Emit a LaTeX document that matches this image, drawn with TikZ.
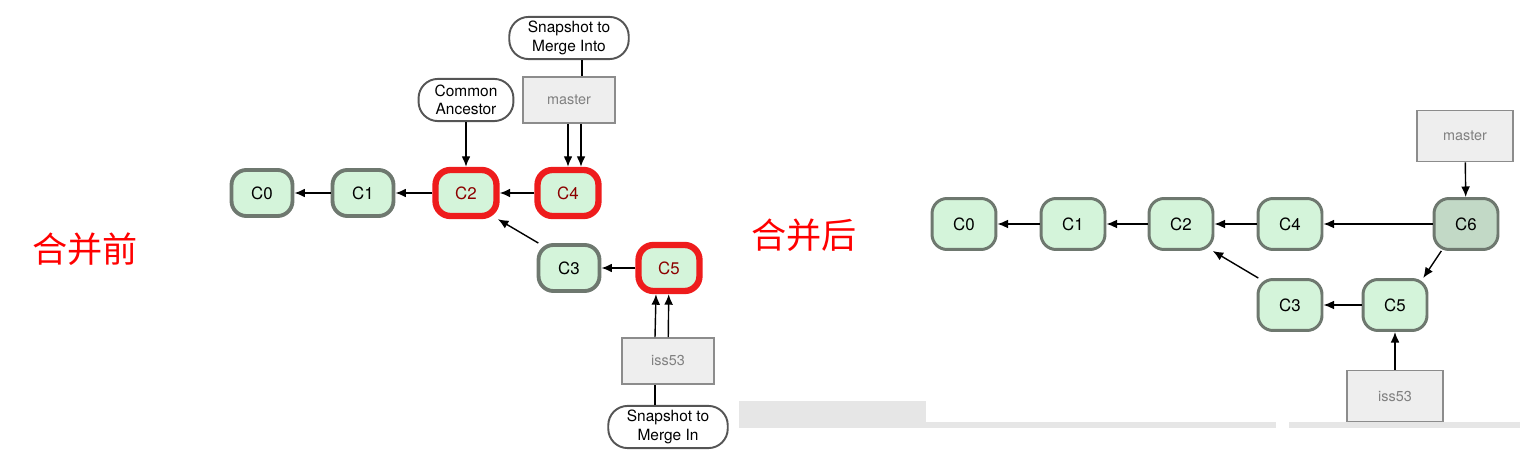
\documentclass[tikz,border=0pt]{standalone}
\usepackage{fontspec}
\setmainfont{TeX Gyre Heros}
\newfontfamily\cjk{Noto Sans CJK SC}
\usepackage{tikz}
\usetikzlibrary{arrows.meta}

\definecolor{commitfill}{HTML}{D4F4DA}
\definecolor{commitline}{HTML}{6E786F}
\definecolor{mergefill}{HTML}{C2D9C6}
\definecolor{branchfill}{HTML}{EEEEEE}
\definecolor{branchline}{HTML}{8C8C8C}
\definecolor{shotline}{HTML}{555555}
\definecolor{hilite}{HTML}{EE1C1C}
\definecolor{scrap}{HTML}{E6E6E6}

\tikzset{
    commit/.style={draw=commitline, line width=2.2pt, fill=commitfill, rounded corners=8.5pt,
        minimum width=34.7pt, minimum height=26.2pt, inner sep=0pt, font=\fontsize{9.6}{11}\selectfont},
    picked/.style={draw=hilite, line width=3.6pt, text=red!55!black},
    wide/.style={line width=1.7pt, minimum width=36.4pt, minimum height=29pt},
    branch/.style={draw=branchline, line width=1.1pt, fill=branchfill, minimum width=52pt,
        minimum height=26pt, inner sep=0pt, text=gray, font=\fontsize{8.2}{10}\selectfont},
    shot/.style={draw=shotline, line width=1.1pt, fill=white, rounded corners=11pt, align=center,
        minimum height=24pt, inner sep=1pt, font=\fontsize{8.8}{10.4}\selectfont},
    arr/.style={->, >={Latex[length=6pt, width=5pt]}, line width=0.8pt},
    tag/.style={text=red, font=\cjk\fontsize{20}{22}\selectfont}
}

\begin{document}
\begin{tikzpicture}[x=0.02cm, y=-0.02cm]
        \useasboundingbox (0,0) rectangle (1520,462);

        % grey strips left over from the screenshot
        \fill[scrap] (739,401) rectangle (926,422);
        \fill[scrap] (739,422) rectangle (1276,428);
        \fill[scrap] (1289,422) rectangle (1520,428);

        % before the merge
        \node[tag] (before) at (85,249) {合并前};

        \node[commit] (preC0) at (262,193) {C0};
        \node[commit] (preC1) at (363,193) {C1};
        \node[commit, picked] (preC2) at (466,193) {C2};
        \node[commit, picked] (preC4) at (568,193) {C4};
        \node[commit] (preC3) at (569,268) {C3};
        \node[commit, picked] (preC5) at (669,268) {C5};

        \node[branch] (premaster) at (569,100) {master};
        \node[branch] (preiss) at (668,361) {iss53};

        \node[shot, minimum width=54pt] (ancestor) at (466,100) {Common\\Ancestor};
        \node[shot, minimum width=68pt] (into) at (569,38) {Snapshot to\\Merge Into};
        \node[shot, minimum width=68pt] (mergein) at (668,427) {Snapshot to\\Merge In};

        \foreach \a/\b in {preC1/preC0, preC2/preC1, preC4/preC2, preC5/preC3} {
            \draw[arr] (\a) -- (\b);
        }
        \draw[arr] ([xshift=1pt]preC3.north west) -- ([xshift=-1pt]preC2.south east);
        \draw[arr] (ancestor) -- (preC2);

        \draw[line width=0.8pt] ([xshift=7.4pt]into.south) -- ([xshift=7.4pt]into.south |- premaster.north);
        \draw[arr] (premaster.south -| preC4) -- (preC4);
        \draw[arr] ([xshift=7.4pt]premaster.south -| preC4) -- ([xshift=7.4pt]preC4.north);

        \draw[line width=0.8pt] ([xshift=-7.4pt]mergein.north) -- ([xshift=-7.4pt]mergein.north |- preiss.south);
        \draw[arr] (preiss) -- (preC5);
        \draw[arr] ([xshift=-7.4pt]preiss.north) -- ([xshift=-7.4pt]preC5.south);

        % after the merge
        \node[tag] (after) at (804,235) {合并后};

        \node[commit, wide] (postC0) at (964,224) {C0};
        \node[commit, wide] (postC1) at (1073,224) {C1};
        \node[commit, wide] (postC2) at (1181,224) {C2};
        \node[commit, wide] (postC4) at (1290,224) {C4};
        \node[commit, wide, fill=mergefill] (postC6) at (1466,224) {C6};
        \node[commit, wide] (postC3) at (1290,305) {C3};
        \node[commit, wide] (postC5) at (1395,305) {C5};

        \node[branch, minimum width=55pt, minimum height=29pt] (postmaster) at (1465,136) {master};
        \node[branch, minimum width=55pt, minimum height=29pt] (postiss) at (1395,396) {iss53};

        \foreach \a/\b in {postC1/postC0, postC2/postC1, postC4/postC2, postC6/postC4, postC5/postC3} {
            \draw[arr] (\a) -- (\b);
        }
        \draw[arr] ([xshift=1pt]postC3.north west) -- ([xshift=-1pt]postC2.south east);
        \draw[arr] ([xshift=5pt]postC6.south west) -- ([xshift=-3pt]postC5.north east);
        \draw[arr] (postmaster) -- (postC6);
        \draw[arr] (postiss) -- (postC5);
    \end{tikzpicture}
\end{document}
